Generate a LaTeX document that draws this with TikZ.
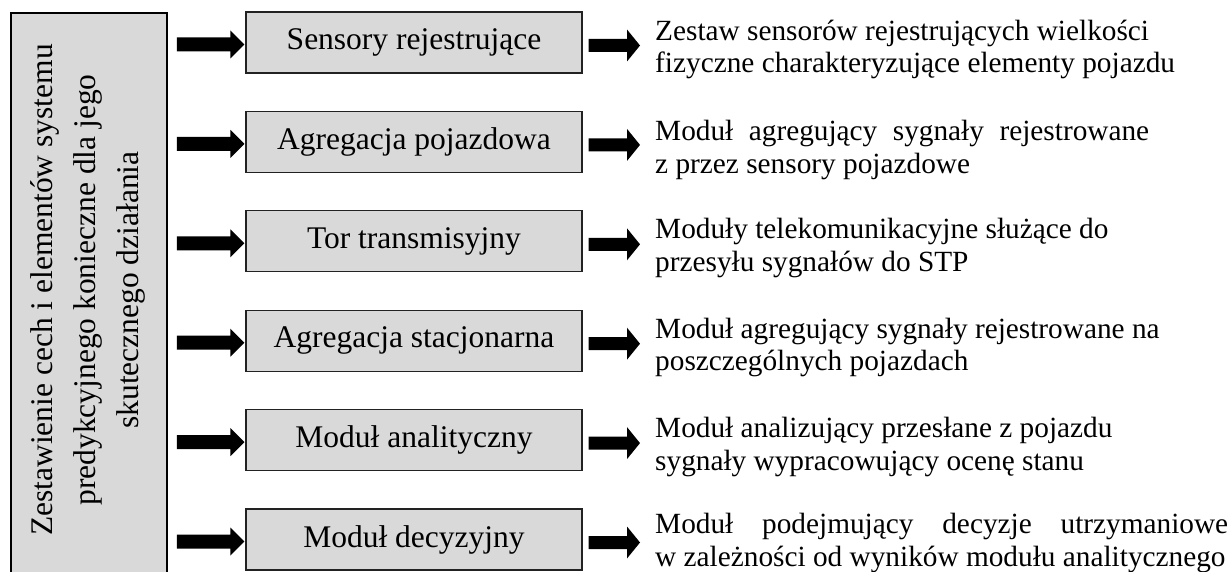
\documentclass[tikz,border=0pt]{standalone}
\usepackage{fontspec}
\setmainfont{Liberation Serif}
\usetikzlibrary{calc}

\definecolor{boxgray}{HTML}{D9D9D9}
\definecolor{edge}{HTML}{222222}

% block arrow: from coordinate #1 to tip #2, shaft half-height #3, head half-height #4, head length #5
\newcommand\blockarrow[5]{%
  \fill ($(#1)+(0,#3)$) -- ($(#2)+(-#5,#3)$) -- ($(#2)+(-#5,#4)$) -- (#2)
    -- ($(#2)+(-#5,-#4)$) -- ($(#2)+(-#5,-#3)$) -- ($(#1)+(0,-#3)$) -- cycle;}

\begin{document}
\begin{tikzpicture}[x=1pt,y=-1pt,
  stage/.style={draw=edge, line width=1.2pt, fill=boxgray, minimum width=336pt,
    minimum height=61pt, inner sep=0pt, font=\fontsize{31.5}{36}\selectfont},
  desc/.style={anchor=west, inner sep=0pt, align=left,
    font=\fontsize{29.3}{32.5}\selectfont},
]
\useasboundingbox (0,0) rectangle (1232,572);
\clip (0,0) rectangle (1232,572);

% frame on the left, running past the lower edge
\node[draw=black, line width=1.8pt, fill=boxgray, anchor=north west,
  minimum width=156pt, minimum height=600pt, inner sep=0pt] (L) at (10,12) {};
\node[rotate=90, align=center, inner sep=0pt,
  font=\fontsize{31.5}{43}\selectfont] (Lt) at (88,290)
  {Zestawienie cech i elementów systemu\\predykcyjnego konieczne dla jego\\skutecznego działania};

% stages
\foreach \i/\name/\txt in {0/b1/Sensory rejestrujące, 1/b2/Agregacja pojazdowa,
  2/b3/Tor transmisyjny, 3/b4/Agregacja stacjonarna,
  4/b5/Moduł analityczny, 5/b6/Moduł decyzyjny}{
  \node[stage] (\name) at (414, 42.5+99.4*\i) {\txt};
}

% descriptions
\node[desc] (d1) at (655, 49.5)
  {Zestaw sensorów rejestrujących wielkości\\fizyczne charakteryzujące elementy pojazdu};
\node[desc] (d2) at (655, 150)
  {\makebox[494pt][s]{Moduł agregujący sygnały rejestrowane}\\z przez sensory pojazdowe};
\node[desc] (d3) at (655, 248)
  {Moduły telekomunikacyjne służące do\\przesyłu sygnałów do STP};
\node[desc] (d4) at (655, 347.5)
  {Moduł agregujący sygnały rejestrowane na\\poszczególnych pojazdach};
\node[desc] (d5) at (655, 447)
  {Moduł analizujący przesłane z pojazdu\\sygnały wypracowujący ocenę stanu};
\node[desc] (d6) at (655, 543)
  {\makebox[573pt][s]{Moduł podejmujący decyzje utrzymaniowe}\\w zależności od wyników modułu analitycznego};

% arrows: frame -> stage -> description
\foreach \name/\d in {b1/d1, b2/d2, b3/d3, b4/d4, b5/d5, b6/d6}{
  \coordinate (s-\name) at ($(L.east |- \name.west)+(9,2)$);
  \coordinate (t-\name) at ($(\name.west)+(-1,2)$);
  \blockarrow{s-\name}{t-\name}{7}{14}{14}
  \coordinate (u-\name) at ($(\name.east)+(6,3)$);
  \coordinate (v-\name) at ($(\d.west |- \name.east)+(-15,3)$);
  \blockarrow{u-\name}{v-\name}{6.5}{16}{13}
}
\end{tikzpicture}
\end{document}
